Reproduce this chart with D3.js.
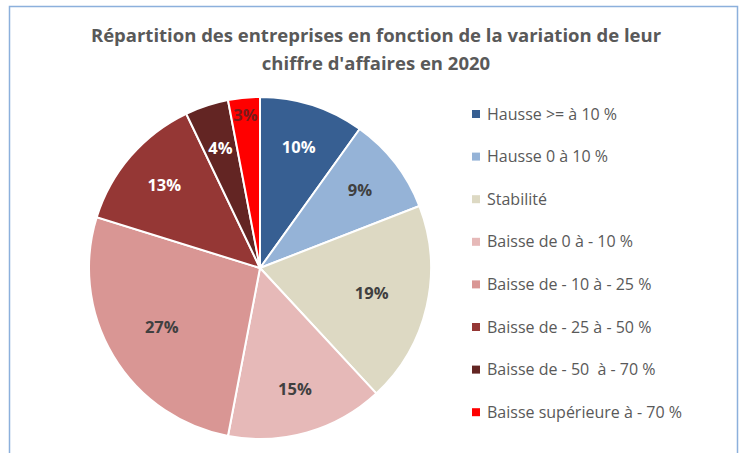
<!DOCTYPE html>
<html>
<head>
<meta charset="utf-8">
<script src="https://cdn.jsdelivr.net/npm/d3@7"></script>
<style>
  body { margin: 0; background: #fff; }
  svg { display: block; }
  text { font-family: "Open Sans", sans-serif; }
</style>
</head>
<body>
<svg id="chart" width="742" height="453"></svg>
<script>
// categories + values
var categories = ['Hausse >= à 10 %', 'Hausse 0 à 10 %', 'Stabilité', 'Baisse de 0 à - 10 %',
  'Baisse de - 10 à - 25 %', 'Baisse de - 25 à - 50 %', 'Baisse de - 50  à - 70 %', 'Baisse supérieure à - 70 %'];
var values = [9.9, 9.2, 19.0, 14.9, 26.8, 13.1, 4.1, 3.0];
var shownLabels = ['10%', '9%', '19%', '15%', '27%', '13%', '4%', '3%'];
var titleLines = ["Répartition des entreprises en fonction de la variation de leur", "chiffre d'affaires en 2020"];

var colors = ['#375f92', '#95b3d7', '#ddd9c3', '#e6b9b8', '#d99694', '#953735', '#632523', '#ff0000'];
var labelColors = ['#ffffff', '#404040', '#404040', '#404040', '#404040', '#ffffff', '#ffffff', '#7a1a1a'];

var svg = d3.select('#chart');

// frame
svg.append('path')
  .attr('d', 'M9.5,460 V6.5 H737.5 V460')
  .attr('fill', 'none')
  .attr('stroke', '#8cb0dc')
  .attr('stroke-width', 1.5);

// title
svg.selectAll('.title')
  .data(titleLines)
  .enter()
  .append('text')
  .attr('class', 'title')
  .attr('x', 376)
  .attr('y', function(d, i) { return 42 + i * 28; })
  .attr('text-anchor', 'middle')
  .style('font-size', '18.5px')
  .style('font-weight', 'bold')
  .style('fill', '#595959')
  .text(function(d) { return d; });

// pie
var cx = 260, cy = 268, radius = 171;
var pie = d3.pie().sort(null).value(function(d) { return d; });
var arcs = pie(values);
var arc = d3.arc().innerRadius(0).outerRadius(radius);

var pieG = svg.append('g').attr('transform', 'translate(' + cx + ',' + cy + ')');

pieG.selectAll('.slice')
  .data(arcs)
  .enter()
  .append('path')
  .attr('class', 'slice')
  .attr('d', arc)
  .style('fill', function(d, i) { return colors[i]; })
  .style('stroke', '#fff')
  .style('stroke-width', 2);

// label radius - small slices pushed out a bit, like excel "best fit"
function labelRadius(v) {
  if (v < 3.5) return radius * 0.9;
  if (v < 15) return radius * 0.74;
  return radius * 0.67;
}

pieG.selectAll('.lbl')
  .data(arcs)
  .enter()
  .append('text')
  .attr('class', 'lbl')
  .attr('transform', function(d) {
    var r = labelRadius(d.value);
    var c = d3.arc().innerRadius(r).outerRadius(r).centroid(d);
    return 'translate(' + c[0] + ',' + c[1] + ')';
  })
  .attr('text-anchor', 'middle')
  .attr('dy', '0.35em')
  .style('font-size', '16.5px')
  .style('font-weight', 'bold')
  .style('fill', function(d, i) { return labelColors[i]; })
  .text(function(d, i) { return shownLabels[i]; });

// legend
var legend = svg.append('g').attr('transform', 'translate(472,114)');
var rowH = 42.6;

legend.selectAll('.sq')
  .data(categories)
  .enter()
  .append('rect')
  .attr('x', 0)
  .attr('y', function(d, i) { return i * rowH - 4; })
  .attr('width', 8)
  .attr('height', 8)
  .style('fill', function(d, i) { return colors[i]; });

legend.selectAll('.lt')
  .data(categories)
  .enter()
  .append('text')
  .attr('x', 15)
  .attr('y', function(d, i) { return i * rowH; })
  .attr('dy', '0.35em')
  .style('font-size', '16px')
  .style('fill', '#595959')
  .style('white-space', 'pre')
  .attr('xml:space', 'preserve')
  .text(function(d) { return d; });
</script>
</body>
</html>
